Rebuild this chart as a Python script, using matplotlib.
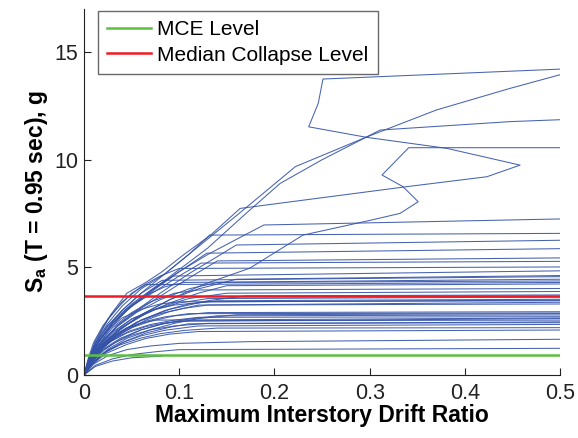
import matplotlib
matplotlib.use("Agg")
import matplotlib.pyplot as plt

plt.rcParams['font.family'] = ['Liberation Sans', 'DejaVu Sans']

# Reference intensity levels (Sa, g)
mce_level = 0.93
median_collapse_level = 3.65

# IDA curves: maximum interstory drift ratio vs. Sa(T=0.95 s), one list per record
drift_curves = [
    [0, 0.004, 0.01, 0.018, 0.028, 0.045, 0.065, 0.082, 0.105, 0.133, 0.164, 0.339, 0.423, 0.458, 0.381, 0.297, 0.236, 0.246, 0.251, 0.5],
    [0, 0.005, 0.012, 0.025, 0.04, 0.06, 0.085, 0.11, 0.16, 0.222, 0.297, 0.37, 0.447, 0.5],
    [0, 0.006, 0.014, 0.028, 0.045, 0.07, 0.1, 0.13, 0.17, 0.206, 0.25, 0.311, 0.447, 0.5],
    [0, 0.007, 0.018, 0.035, 0.06, 0.09, 0.125, 0.174, 0.23, 0.302, 0.332, 0.351, 0.335, 0.313, 0.341, 0.5],
    [0, 0.006, 0.015, 0.03, 0.05, 0.075, 0.1, 0.13, 0.16, 0.189, 0.5],
    [0, 0.005, 0.012, 0.025, 0.04, 0.06, 0.085, 0.11, 0.132, 0.5],
    [0, 0.007, 0.018, 0.035, 0.055, 0.08, 0.11, 0.14, 0.16, 0.5],
    [0, 0.006, 0.015, 0.03, 0.05, 0.075, 0.1, 0.129, 0.5],
    [0, 0.007, 0.018, 0.035, 0.06, 0.085, 0.11, 0.14, 0.5],
    [0, 0.006, 0.016, 0.03, 0.05, 0.075, 0.1, 0.123, 0.5],
    [0, 0.006, 0.015, 0.03, 0.05, 0.07, 0.094, 0.5],
    [0, 0.005, 0.013, 0.025, 0.04, 0.06, 0.082, 0.5],
    [0, 0.008, 0.02, 0.04, 0.065, 0.09, 0.12, 0.16, 0.5],
    [0, 0.007, 0.018, 0.035, 0.055, 0.08, 0.11, 0.14, 0.5],
    [0, 0.008, 0.02, 0.04, 0.065, 0.09, 0.12, 0.15, 0.5],
    [0, 0.005, 0.013, 0.025, 0.045, 0.065, 0.085, 0.105, 0.5],
    [0, 0.007, 0.018, 0.035, 0.055, 0.08, 0.11, 0.15, 0.5],
    [0, 0.008, 0.02, 0.04, 0.06, 0.09, 0.13, 0.17, 0.5],
    [0, 0.007, 0.017, 0.032, 0.05, 0.075, 0.1, 0.13, 0.5],
    [0, 0.006, 0.015, 0.03, 0.05, 0.07, 0.095, 0.13, 0.5],
    [0, 0.008, 0.02, 0.038, 0.06, 0.085, 0.11, 0.14, 0.5],
    [0, 0.007, 0.018, 0.035, 0.055, 0.08, 0.105, 0.13, 0.5],
    [0, 0.009, 0.022, 0.042, 0.065, 0.09, 0.12, 0.5],
    [0, 0.007, 0.017, 0.032, 0.05, 0.07, 0.095, 0.13, 0.5],
    [0, 0.006, 0.015, 0.028, 0.045, 0.065, 0.085, 0.11, 0.5],
    [0, 0.009, 0.022, 0.04, 0.06, 0.085, 0.11, 0.14, 0.5],
    [0, 0.007, 0.017, 0.03, 0.048, 0.07, 0.095, 0.12, 0.5],
    [0, 0.008, 0.02, 0.038, 0.06, 0.08, 0.1, 0.5],
    [0, 0.006, 0.015, 0.028, 0.045, 0.065, 0.085, 0.11, 0.5],
    [0, 0.007, 0.017, 0.032, 0.05, 0.07, 0.095, 0.13, 0.5],
    [0, 0.01, 0.025, 0.045, 0.065, 0.09, 0.11, 0.5],
    [0, 0.008, 0.02, 0.038, 0.06, 0.08, 0.105, 0.14, 0.5],
    [0, 0.009, 0.023, 0.045, 0.065, 0.09, 0.12, 0.5],
    [0, 0.01, 0.025, 0.045, 0.07, 0.1, 0.174, 0.5],
    [0, 0.012, 0.03, 0.05, 0.075, 0.1, 0.5],
    [0, 0.012, 0.03, 0.05, 0.082],
    [0, 0.006, 0.015, 0.03, 0.05, 0.07, 0.095, 0.12, 0.5],
    [0, 0.005, 0.012, 0.025, 0.04, 0.06, 0.08, 0.1, 0.5],
    [0, 0.01, 0.025, 0.045, 0.07, 0.095, 0.12, 0.16, 0.5],
    [0, 0.009, 0.022, 0.04, 0.06, 0.085, 0.12, 0.5],
    [0, 0.006, 0.015, 0.028, 0.045, 0.06, 0.075, 0.5],
    [0, 0.005, 0.012, 0.025, 0.04, 0.06, 0.08, 0.1, 0.5],
    [0, 0.004, 0.01, 0.02, 0.035, 0.05, 0.065, 0.5],
]

sa_curves = [
    [0, 0.6, 1.3, 2.0, 2.8, 3.8, 4.3, 4.8, 5.6, 6.5, 7.74, 8.75, 9.21, 9.75, 10.53, 11.04, 11.53, 12.62, 13.75, 14.21],
    [0, 0.6, 1.3, 2.2, 3.0, 3.8, 4.7, 5.6, 7.4, 9.68, 11.06, 12.31, 13.31, 13.95],
    [0, 0.6, 1.3, 2.2, 3.0, 3.9, 4.9, 5.9, 7.5, 8.9, 10.0, 11.38, 11.77, 11.86],
    [0, 0.6, 1.3, 2.0, 2.8, 3.5, 4.2, 4.96, 6.5, 7.2, 7.51, 8.05, 8.75, 9.29, 10.56, 10.56],
    [0, 0.7, 1.5, 2.4, 3.3, 4.1, 4.8, 5.6, 6.3, 6.97, 7.25],
    [0, 0.7, 1.5, 2.4, 3.2, 4.0, 4.7, 5.6, 6.5, 6.58],
    [0, 0.7, 1.5, 2.3, 3.0, 3.8, 4.7, 5.5, 6.04, 6.26],
    [0, 0.75, 1.55, 2.4, 3.2, 4.0, 4.8, 5.66, 5.87],
    [0, 0.7, 1.5, 2.3, 3.1, 3.8, 4.5, 5.3, 5.44],
    [0, 0.75, 1.6, 2.4, 3.2, 3.9, 4.6, 5.2, 5.28],
    [0, 0.7, 1.5, 2.4, 3.2, 3.9, 4.6, 4.84],
    [0, 0.7, 1.5, 2.3, 3.0, 3.8, 4.4, 4.57],
    [0, 0.7, 1.45, 2.2, 2.9, 3.5, 4.0, 4.45, 4.62],
    [0, 0.7, 1.5, 2.25, 2.9, 3.5, 4.0, 4.3, 4.37],
    [0, 0.7, 1.45, 2.2, 2.85, 3.35, 3.8, 4.15, 4.23],
    [0, 0.7, 1.5, 2.3, 3.1, 3.7, 4.1, 4.3, 4.45],
    [0, 0.65, 1.35, 2.05, 2.65, 3.15, 3.55, 3.8, 3.88],
    [0, 0.65, 1.35, 2.0, 2.55, 3.05, 3.45, 3.68, 3.72],
    [0, 0.65, 1.35, 2.0, 2.6, 3.05, 3.35, 3.55, 3.62],
    [0, 0.6, 1.3, 2.0, 2.6, 3.0, 3.25, 3.4, 3.48],
    [0, 0.65, 1.35, 2.0, 2.55, 3.0, 3.3, 3.45, 3.52],
    [0, 0.6, 1.25, 1.9, 2.45, 2.85, 3.1, 3.25, 3.30],
    [0, 0.65, 1.35, 2.0, 2.55, 2.95, 3.25, 3.38],
    [0, 0.6, 1.2, 1.75, 2.2, 2.5, 2.75, 2.9, 2.94],
    [0, 0.6, 1.2, 1.75, 2.2, 2.5, 2.7, 2.85, 2.88],
    [0, 0.6, 1.2, 1.7, 2.1, 2.4, 2.6, 2.75, 2.79],
    [0, 0.6, 1.15, 1.65, 2.05, 2.35, 2.55, 2.68, 2.71],
    [0, 0.6, 1.2, 1.7, 2.1, 2.35, 2.5, 2.62],
    [0, 0.5, 1.05, 1.55, 1.95, 2.25, 2.42, 2.52, 2.55],
    [0, 0.5, 1.05, 1.5, 1.85, 2.1, 2.28, 2.4, 2.43],
    [0, 0.6, 1.15, 1.6, 1.95, 2.22, 2.38, 2.47],
    [0, 0.5, 1.0, 1.4, 1.72, 1.92, 2.07, 2.18, 2.20],
    [0, 0.5, 1.0, 1.42, 1.7, 1.9, 2.02, 2.09],
    [0, 0.5, 0.9, 1.18, 1.35, 1.47, 1.55, 1.66],
    [0, 0.45, 0.75, 0.95, 1.08, 1.18, 1.24],
    [0, 0.4, 0.65, 0.8, 0.88],
    [0, 0.65, 1.4, 2.2, 2.9, 3.4, 3.8, 3.95, 4.02],
    [0, 0.65, 1.35, 2.1, 2.65, 3.05, 3.3, 3.4, 3.45],
    [0, 0.6, 1.2, 1.7, 2.1, 2.4, 2.62, 2.8, 2.85],
    [0, 0.5, 1.05, 1.5, 1.82, 2.08, 2.28, 2.35],
    [0, 0.55, 1.15, 1.7, 2.15, 2.4, 2.55, 2.65],
    [0, 0.75, 1.6, 2.6, 3.4, 4.1, 4.6, 4.95, 5.02],
    [0, 0.7, 1.5, 2.3, 3.1, 3.8, 4.2, 4.3],
]

x_ticks = [0, 0.1, 0.2, 0.3, 0.4, 0.5]
x_tick_labels = ["0", "0.1", "0.2", "0.3", "0.4", "0.5"]
y_ticks = [0, 5, 10, 15]
y_tick_labels = ["0", "5", "10", "15"]

fig = plt.figure(figsize=(5.78, 4.38), dpi=100)
ax = fig.add_axes([0.1453, 0.1438, 0.8237, 0.8355])

curve_color = "#3352a8"
for d, s in zip(drift_curves, sa_curves):
    ax.plot(d, s, color=curve_color, lw=0.75, alpha=0.9, solid_joinstyle="round")

mce_line, = ax.plot([0, 0.5], [mce_level, mce_level], color="#5cbf3f", lw=1.8, label="MCE Level")
med_line, = ax.plot([0, 0.5], [median_collapse_level, median_collapse_level], color="#ee1c25",
                    lw=1.8, label="Median Collapse Level")

ax.set_xlim(0, 0.5)
ax.set_ylim(0, 17)
ax.set_xticks(x_ticks)
ax.set_xticklabels(x_tick_labels)
ax.set_yticks(y_ticks)
ax.set_yticklabels(y_tick_labels)
ax.tick_params(direction="in", length=5, width=0.8, labelsize=15.5, colors="#222222")
ax.tick_params(axis="x", pad=6)
ax.tick_params(axis="y", pad=4)
for side in ("top", "right"):
    ax.spines[side].set_visible(False)
for side in ("left", "bottom"):
    ax.spines[side].set_linewidth(0.8)
    ax.spines[side].set_color("#222222")

ax.set_xlabel("Maximum Interstory Drift Ratio", fontsize=16.5, fontweight="bold", labelpad=0)
ax.set_ylabel(r"S$_\mathregular{a}$ (T = 0.95 sec), g", fontsize=16.5, fontweight="bold", labelpad=3)

leg = ax.legend(handles=[mce_line, med_line], loc="upper left", bbox_to_anchor=(0.029, 0.995),
                fontsize=15, frameon=True, fancybox=False, handlelength=2.1, handletextpad=0.3,
                borderpad=0.45, labelspacing=0.3, borderaxespad=0)
leg.get_frame().set_edgecolor("#444444")
leg.get_frame().set_linewidth(1.0)

fig.savefig("out.png", dpi=100)
